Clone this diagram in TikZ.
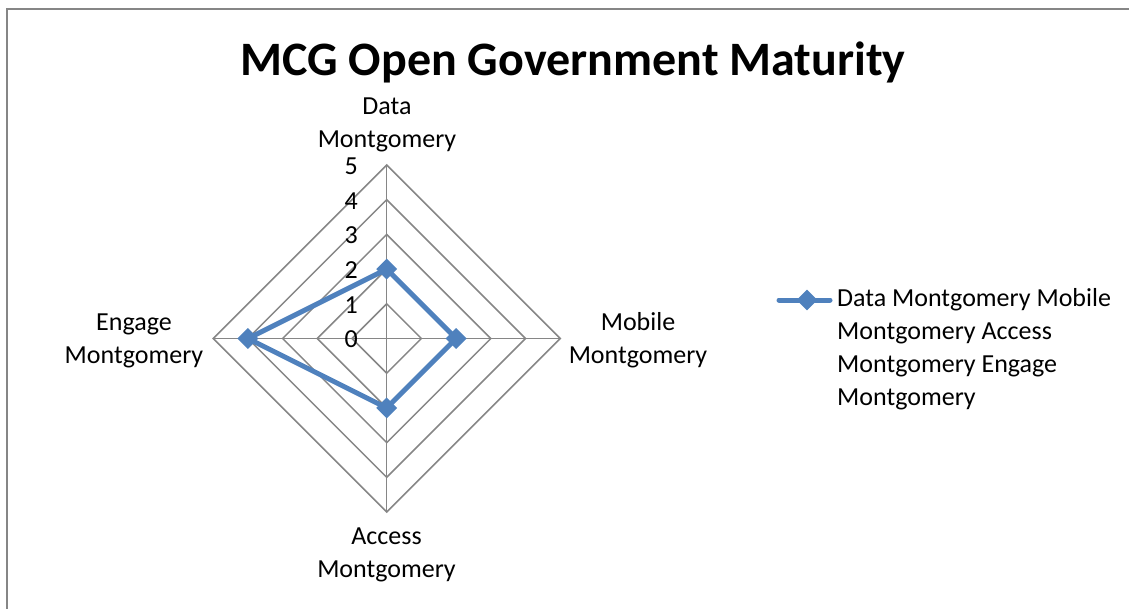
\documentclass[tikz,border=0pt]{standalone}
\usepackage{fontspec}
\setmainfont{Carlito}
\usetikzlibrary{shapes.geometric}
\definecolor{gridgray}{HTML}{868686}
\definecolor{seriesblue}{HTML}{4F81BD}
\tikzset{
    ring/.style={draw=gridgray, line width=1.5pt},
    catlabel/.style={anchor=base, align=center, inner sep=0pt, font=\fontsize{26}{33}\selectfont},
    ticklabel/.style={anchor=east, inner sep=0pt, font=\fontsize{26}{31}\selectfont},
    series/.style={draw=seriesblue, line width=5pt, line join=round, line cap=round},
    datamark/.style={diamond, fill=seriesblue, inner sep=0pt, minimum size=21pt},
}
\begin{document}
\begin{tikzpicture}[x=1pt, y=-1pt]
    % Cornice del grafico
    \clip (0,0) rectangle (1129,608);
    \draw[gridgray, line width=2pt] (7,9) rectangle (1140,620);

    % Titolo
    \node[anchor=base, inner sep=0pt, font=\fontsize{48}{58}\selectfont\bfseries] (title) at (573,75) {MCG Open Government Maturity};

    % Griglia radar, una unita = un livello
    \begin{scope}[shift={(386.7,338.5)}, x=34.7pt, y=34.7pt]
        \draw[ring] (0,1) -- (1,0) -- (0,-1) -- (-1,0) -- cycle;  % livello 1
        \draw[ring] (0,2) -- (2,0) -- (0,-2) -- (-2,0) -- cycle;  % livello 2
        \draw[ring] (0,3) -- (3,0) -- (0,-3) -- (-3,0) -- cycle;  % livello 3
        \draw[ring] (0,4) -- (4,0) -- (0,-4) -- (-4,0) -- cycle;  % livello 4
        \draw[ring] (0,5) -- (5,0) -- (0,-5) -- (-5,0) -- cycle;  % livello 5
        \draw[ring] (0,5) -- (0,-5);
        \draw[ring] (-5,0) -- (5,0);

        % Etichette dei livelli
        \node[ticklabel] (t0) at (-0.83,-0.03) {0};
        \node[ticklabel] (t1) at (-0.83,0.97) {1};
        \node[ticklabel] (t2) at (-0.83,1.97) {2};
        \node[ticklabel] (t3) at (-0.83,2.97) {3};
        \node[ticklabel] (t4) at (-0.83,3.97) {4};
        \node[ticklabel] (t5) at (-0.83,4.97) {5};

        % Valori della serie
        \coordinate (data) at (0,2);
        \coordinate (mobile) at (2,0);
        \coordinate (access) at (0,-2);
        \coordinate (engage) at (-4,0);
        \draw[series] (data) -- (mobile) -- (access) -- (engage) -- cycle;
        \node[datamark] (mdata) at (data) {};
        \node[datamark] (mmobile) at (mobile) {};
        \node[datamark] (maccess) at (access) {};
        \node[datamark] (mengage) at (engage) {};
    \end{scope}

    % Etichette delle categorie (base = ultima riga)
    \node[catlabel] (ldata) at (387,147) {Data\\Montgomery};
    \node[catlabel] (lmobile) at (638,363) {Mobile\\Montgomery};
    \node[catlabel] (laccess) at (386.5,577) {Access\\Montgomery};
    \node[catlabel] (lengage) at (134,363) {Engage\\Montgomery};

    % Legenda
    \coordinate (legA) at (779,300);
    \coordinate (legB) at (830,300);
    \draw[series] (legA) -- (legB);
    \node[datamark] (legmark) at (807,300) {};
    \node[anchor=base west, align=left, inner sep=0pt, font=\fontsize{26}{32.7}\selectfont] (legtext) at (837,405)
        {Data Montgomery Mobile\\Montgomery Access\\Montgomery Engage\\Montgomery};
\end{tikzpicture}
\end{document}
